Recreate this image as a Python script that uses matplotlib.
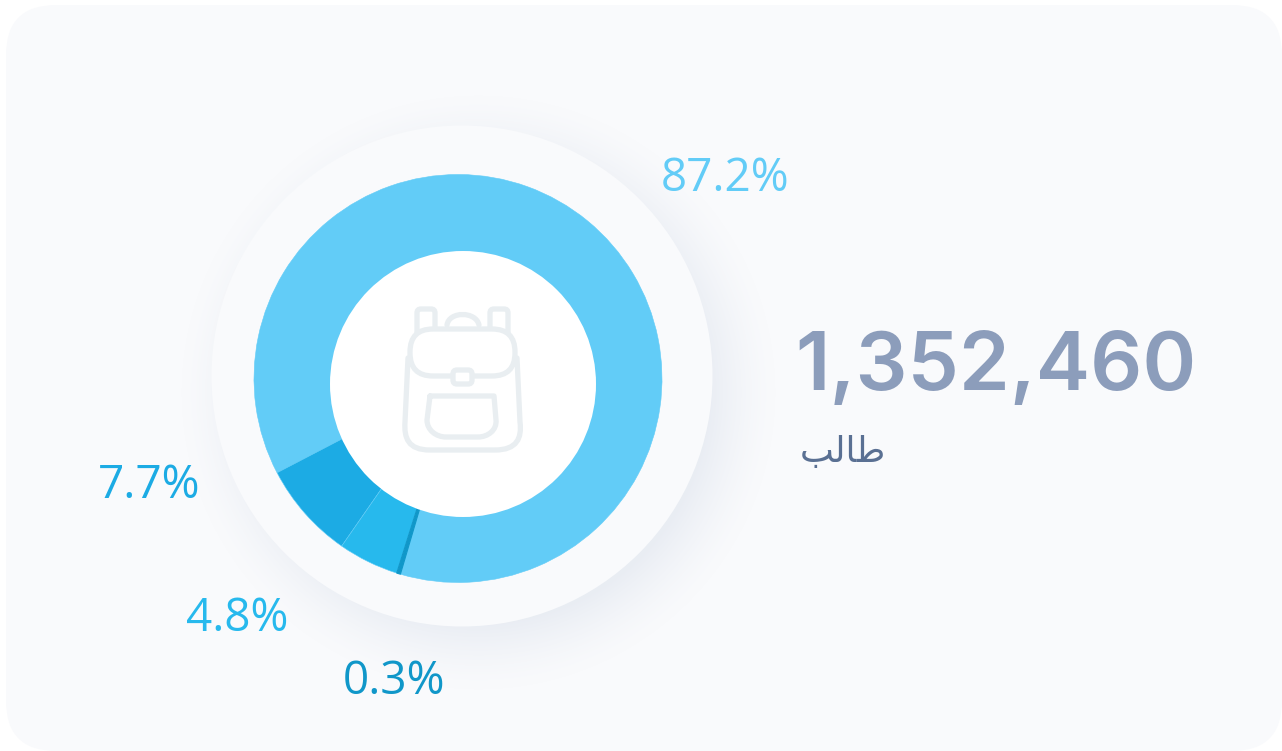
import numpy as np
import matplotlib.pyplot as plt
from matplotlib.patches import Circle, FancyBboxPatch, PathPatch
from matplotlib.path import Path

# share of students per category
values = [87.2, 7.7, 4.8, 0.3]
labels = ['87.2%', '7.7%', '4.8%', '0.3%']
colors = ['#62ccf7', '#1cabe4', '#27b9ed', '#1097c9']
total_text = '1,352,460'
# "طالب" already shaped, in visual order, matplotlib does no arabic shaping
unit_text = '\ufe90\ufedf\ufe8e\ufec3'

W, H = 1282, 751
ICON = '#e9eef1'

fig = plt.figure(figsize=(W / 100, H / 100), dpi=100, facecolor='white')

# background layer in pixel coords
bg = fig.add_axes([0, 0, 1, 1])
bg.set_xlim(0, W)
bg.set_ylim(H, 0)
bg.axis('off')
card = FancyBboxPatch((6, 5), W - 6, H - 5, boxstyle='round,pad=0,rounding_size=50',
                      fc='#f9fafc', ec='none', zorder=1)
bg.add_patch(card)

# soft shadow of the big disc, lower right
yy, xx = np.mgrid[0:H, 0:W]
dist = np.hypot(xx - 478, yy - 392)
fade = np.clip((300 - dist) / 70, 0, 1) ** 1.5
shadow = np.zeros((H, W, 4))
shadow[..., :3] = np.array([214, 221, 233]) / 255
shadow[..., 3] = fade * 0.45
img = bg.imshow(shadow, extent=(0, W, H, 0), interpolation='bilinear', aspect='auto', zorder=2)
img.set_clip_path(card)
bg.set_xlim(0, W)
bg.set_ylim(H, 0)
bg.add_patch(Circle((462, 376), 250.5, fc='#f9fafc', ec='none', zorder=3))

# donut
ax = fig.add_axes([254 / W, 1 - 582.5 / H, 408 / W, 408 / H])
wedges, _ = ax.pie(values, colors=colors, startangle=-106.4, counterclock=True, radius=1,
                   wedgeprops={'linewidth': 0.4, 'edgecolor': '#62ccf7'})
wedges[-1].set_edgecolor(colors[-1])
wedges[-1].set_linewidth(0.8)
ax.set_xlim(-1, 1)
ax.set_ylim(-1, 1)
ax.set_aspect('auto')

# hole, icon and texts on top
top = fig.add_axes([0, 0, 1, 1])
top.set_xlim(0, W)
top.set_ylim(H, 0)
top.axis('off')
top.patch.set_alpha(0)
top.add_patch(Circle((463, 384), 133, fc='white', ec='none'))


def stroke(verts, codes):
    top.add_patch(PathPatch(Path(verts, codes), fc='none', ec=ICON, lw=3.8, capstyle='round',
                            joinstyle='round'))


M, L, C = Path.MOVETO, Path.LINETO, Path.CURVE4
# straps
for sx in (417, 490):
    top.add_patch(FancyBboxPatch((sx, 309), 18, 34, boxstyle='round,pad=0,rounding_size=4',
                                 fc='white', ec=ICON, lw=3.8))
# top handle
stroke([(447, 325), (449, 311), (476, 311), (479, 325)], [M, C, C, C])
# flap
top.add_patch(FancyBboxPatch((410, 329), 105, 47, boxstyle='round,pad=0,rounding_size=23',
                             fc='white', ec=ICON, lw=3.8))
# clasp
top.add_patch(FancyBboxPatch((453, 370), 19, 14, boxstyle='round,pad=0,rounding_size=4',
                             fc='white', ec=ICON, lw=3.8))
# body
stroke([(408, 358), (405, 422), (404, 438), (408, 450), (430, 450), (495, 450),
        (517, 450), (522, 438), (520, 422), (517, 358)],
       [M, L, C, C, C, L, C, C, C, L])
# pocket
stroke([(430, 396), (494, 396), (496, 420), (497, 430), (488, 437), (478, 437),
        (446, 437), (436, 437), (427, 430), (427, 420), (430, 396)],
       [M, L, L, C, C, C, L, C, C, C, L])

positions = [(661, 191), (98, 498), (186, 631), (343, 694)]
for txt, col, pos in zip(labels, colors, positions):
    top.text(pos[0], pos[1], txt, color=col, fontsize=33, family='Open Sans',
             ha='left', va='baseline')
top.text(795, 390, total_text, color='#8c9dbb', fontsize=58.8, family='Inter',
         weight='semibold', ha='left', va='baseline')
top.text(800, 462, unit_text, color='#5a7093', fontsize=26, family='DejaVu Sans',
         ha='left', va='baseline')

fig.savefig('out.png', dpi=100, facecolor='white')
